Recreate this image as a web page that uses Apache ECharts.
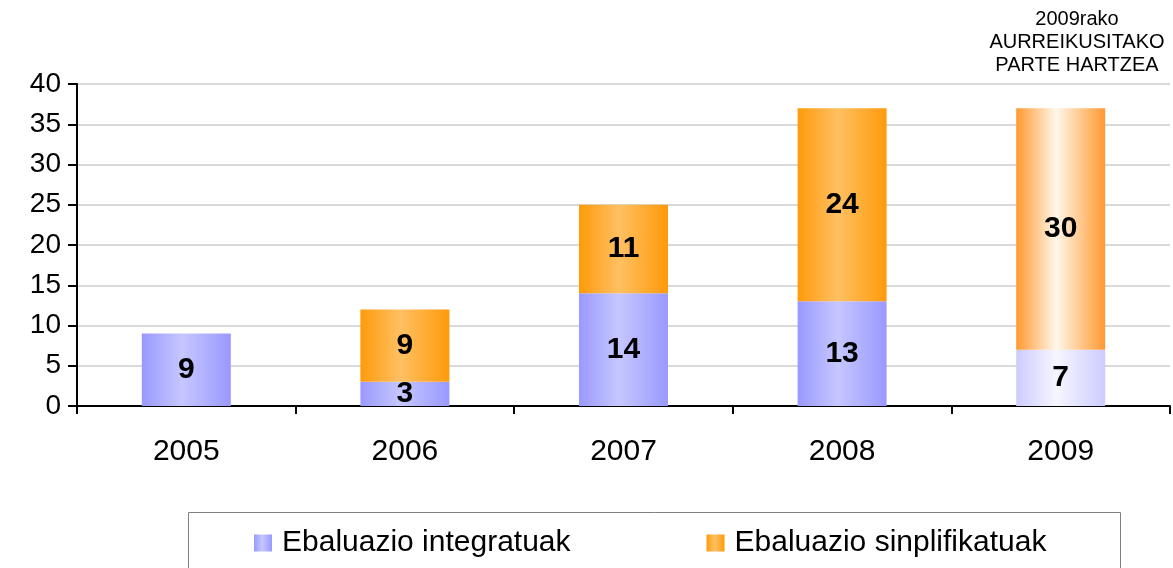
<!DOCTYPE html>
<html>
<head>
<meta charset="utf-8">
<script src="https://cdn.jsdelivr.net/npm/echarts@6/dist/echarts.min.js"></script>
<style>
  html, body { margin: 0; padding: 0; background: #fff; }
  #container { width: 1173px; height: 568px; }
</style>
</head>
<body>
<div id="container"></div>
<script>
var years = ['2005', '2006', '2007', '2008', '2009'];
var integratuak = [9, 3, 14, 13, 7];
var sinplifikatuak = [null, 9, 11, 24, 30];
var yTicks = [0, 5, 10, 15, 20, 25, 30, 35, 40];
var seriesNames = ['Ebaluazio integratuak', 'Ebaluazio sinplifikatuak'];
var forecastNote = '2009rako\nAURREIKUSITAKO\nPARTE HARTZEA';

var myFont = '"Liberation Sans", Arial, sans-serif';

function hGrad(edge, mid) {
    return new echarts.graphic.LinearGradient(0, 0, 1, 0, [
        { offset: 0, color: edge },
        { offset: 0.45, color: mid },
        { offset: 1, color: edge }
    ]);
}

var purple = hGrad('#9999ff', '#c6c6ff');
var orange = hGrad('#ff9a0a', '#ffc062');
var purpleForecast = hGrad('#ccccff', '#f6f6ff');
var orangeForecast = hGrad('#ff9930', '#fff7ea');

// la ultima columna (2009) es prevision: colores mas claros
function buildData(values, forecastColor) {
    return values.map(function (v, i) {
        if (i === values.length - 1) {
            return { value: v, itemStyle: { color: forecastColor } };
        }
        return v;
    });
}

var labelStyle = {
    show: true,
    position: 'inside',
    color: '#000',
    fontFamily: myFont,
    fontWeight: 'bold',
    fontSize: 30
};

var myChart = echarts.init(document.getElementById('container'));

myChart.setOption({
    animation: false,
    textStyle: { fontFamily: myFont },
    grid: { left: 77, right: 3, top: 84, bottom: 162 },
    legend: {
        left: 249,
        top: 523,
        icon: 'rect',
        itemWidth: 18,
        itemHeight: 17,
        itemGap: 136,
        textStyle: { fontSize: 30, color: '#000', fontFamily: myFont, padding: [0, 0, 0, 5] },
        data: seriesNames
    },
    graphic: [
        {
            type: 'rect',
            shape: { x: 188.5, y: 512.5, width: 932, height: 80 },
            style: { fill: 'none', stroke: '#808080', lineWidth: 1 },
            z: -1
        },
        {
            type: 'text',
            style: {
                text: forecastNote,
                x: 1077,
                y: 8,
                textAlign: 'center',
                lineHeight: 23,
                fill: '#000',
                font: '20px ' + myFont
            }
        }
    ],
    xAxis: {
        type: 'category',
        data: years,
        axisLine: { lineStyle: { color: '#000', width: 2 } },
        axisTick: { show: true, length: 8, lineStyle: { color: '#000', width: 2 } },
        axisLabel: { fontSize: 30, color: '#000', margin: 31 }
    },
    yAxis: {
        type: 'value',
        min: yTicks[0],
        max: yTicks[yTicks.length - 1],
        interval: 5,
        axisLine: { show: true, lineStyle: { color: '#000', width: 2 } },
        axisTick: { show: true, length: 9, lineStyle: { color: '#000', width: 2 } },
        axisLabel: { fontSize: 28, color: '#000', margin: 16 },
        splitLine: { lineStyle: { color: '#d9d9d9', width: 2 } }
    },
    series: [
        {
            name: seriesNames[0],
            type: 'bar',
            stack: 'total',
            barWidth: 89,
            itemStyle: { color: purple },
            label: labelStyle,
            data: buildData(integratuak, purpleForecast)
        },
        {
            name: seriesNames[1],
            type: 'bar',
            stack: 'total',
            barWidth: 89,
            itemStyle: { color: orange },
            label: labelStyle,
            data: buildData(sinplifikatuak, orangeForecast)
        }
    ]
});
</script>
</body>
</html>
